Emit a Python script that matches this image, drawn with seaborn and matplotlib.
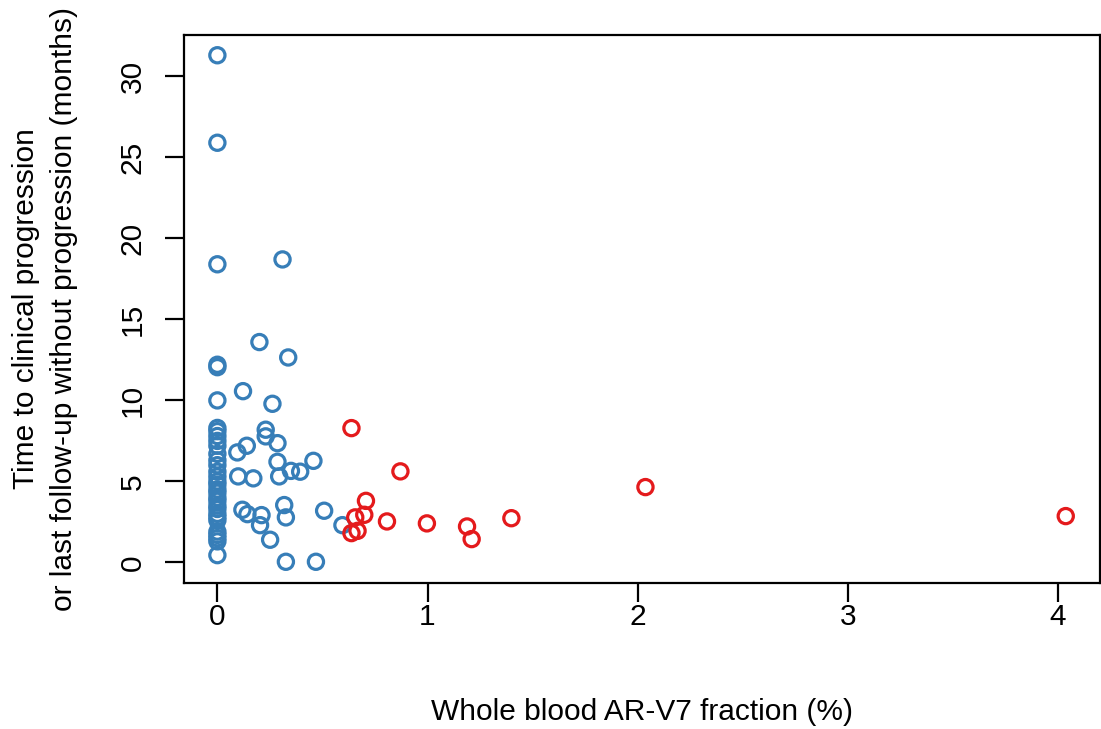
import numpy as np
import pandas as pd
import matplotlib
matplotlib.use("Agg")
import matplotlib.pyplot as plt
import seaborn as sns

# ---- data ----
blue_x = [0, 0, 0, 0, 0, 0,
          0, 0, 0, 0, 0, 0, 0, 0, 0, 0, 0, 0, 0, 0, 0, 0, 0, 0, 0, 0, 0, 0, 0, 0, 0, 0,
          0.20, 0.337, 0.122, 0.262, 0.23, 0.23, 0.286, 0.14, 0.095, 0.286, 0.35, 0.394,
          0.457, 0.099, 0.171, 0.294, 0.119, 0.143, 0.21, 0.203, 0.318, 0.326, 0.508,
          0.595, 0.251, 0.326, 0.469, 0.31]
blue_y = [31.3, 25.9, 18.4, 12.2, 12.05, 10.0,
          8.3, 8.1, 7.8, 7.5, 7.2, 6.7, 6.3, 6.0, 5.6, 5.3, 5.0, 4.8, 4.5, 4.3, 4.0, 3.8,
          3.5, 3.3, 3.0, 2.8, 2.6, 1.9, 1.7, 1.5, 1.3, 0.45,
          13.6, 12.65, 10.57, 9.79, 8.19, 7.78, 7.36, 7.2, 6.79, 6.21, 5.65, 5.6,
          6.27, 5.31, 5.19, 5.31, 3.25, 2.98, 2.92, 2.30, 3.54, 2.78, 3.19,
          2.30, 1.40, 0.04, 0.04, 18.7]
red_x = [0.638, 0.871, 0.707, 0.699, 0.656, 0.667, 0.638, 0.807, 0.997, 1.188, 1.21,
         1.399, 2.037, 4.037]
red_y = [8.29, 5.62, 3.80, 2.94, 2.78, 1.95, 1.81, 2.53, 2.41, 2.22, 1.44,
         2.73, 4.65, 2.86]

x_ticks = [0, 1, 2, 3, 4]
y_ticks = [0, 5, 10, 15, 20, 25, 30]
x_label = "Whole blood AR-V7 fraction (%)"
y_label = "Time to clinical progression\nor last follow-up without progression (months)"

BLUE = "#377EB8"
RED = "#E41A1C"

blue_df = pd.DataFrame({"x": blue_x, "y": blue_y})
red_df = pd.DataFrame({"x": red_x, "y": red_y})

sns.set_theme(style="white")
plt.rcParams["font.family"] = ["Liberation Sans", "DejaVu Sans"]

FS = 21.5

fig = plt.figure(figsize=(11.01, 7.29), dpi=100)
ax = fig.add_axes([0.1669, 0.2007, 0.8322, 0.7513])

common = dict(marker="o", s=120, facecolor="none", linewidth=2.3, legend=False, ax=ax)
sns.scatterplot(data=blue_df, x="x", y="y", edgecolor=BLUE, **common)
sns.scatterplot(data=red_df, x="x", y="y", edgecolor=RED, **common)

ax.set_xlim(-0.16, 4.2)
ax.set_ylim(-1.25, 32.55)
ax.set_xticks(x_ticks)
ax.set_yticks(y_ticks)
ax.set_xticklabels([str(v) for v in x_ticks])
ax.set_yticklabels([str(v) for v in y_ticks], rotation=90, va="center")

for sp in ax.spines.values():
    sp.set_visible(True)
    sp.set_color("black")
    sp.set_linewidth(1.6)

ax.tick_params(axis="both", which="major", direction="out", length=13.5, width=1.6,
               color="black", labelsize=FS, labelcolor="black",
               bottom=True, left=True)
ax.tick_params(axis="x", pad=1)
ax.tick_params(axis="y", pad=13)

ax.set_xlabel(x_label, fontsize=FS, color="black", va="center")
ax.xaxis.set_label_coords(0.5, -0.236)
ax.set_ylabel(y_label, fontsize=FS, color="black", linespacing=1.45, va="center", ha="center")
ax.yaxis.set_label_coords(-0.151, 0.5)
ax.grid(False)

fig.savefig("out.png", dpi=100)
